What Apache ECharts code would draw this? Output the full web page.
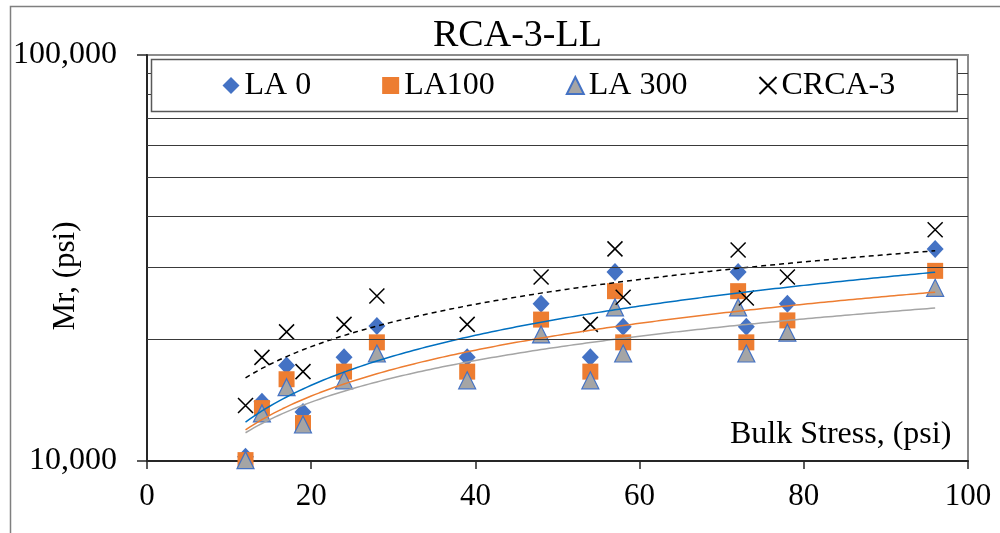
<!DOCTYPE html>
<html>
<head>
<meta charset="utf-8">
<script src="https://cdn.jsdelivr.net/npm/echarts@6/dist/echarts.min.js"></script>
<style>html,body{margin:0;padding:0;background:#fff;}#c{width:1000px;height:533px;}</style>
</head>
<body>
<div id="c"></div>
<script>
// ---- data ----
const bulkStress = [12, 14, 17, 19, 24, 28, 39, 48, 54, 57, 58, 72, 73, 78, 96];
const la0   = [10250, 14000, 17200, 13200, 18000, 21500, 18000, 24400, 18000, 29200, 21400, 29200, 21400, 24400, 33300];
const la100 = [10050, 13500, 15900, 12400, 16600, 19600, 16600, 22300, 16600, 26200, 19600, 26200, 19600, 22200, 29400];
const la300 = [10050, 13100, 15200, 12300, 15800, 18400, 15800, 20500, 15800, 23900, 18400, 23900, 18400, 20700, 26700];
const crca3 = [13700, 18000, 20800, 16600, 21700, 25500, 21700, 28400, 21700, 33300, 25300, 33100, 25200, 28400, 37100];
const seriesNames = ['LA 0', 'LA100', 'LA 300', 'CRCA-3'];
const minorGridValues = [20000, 30000, 40000, 50000, 60000, 70000, 80000, 90000];
const xTicks = [0, 20, 40, 60, 80, 100];

const FONT = '"Liberation Serif", "Times New Roman", serif';

function pairs(ys) { return bulkStress.map((x, i) => [x, ys[i]]); }

// power trendline (least squares in log-log space), like Excel's power trendline
function powerTrend(ys) {
  const n = bulkStress.length;
  const lx = bulkStress.map(Math.log), ly = ys.map(Math.log);
  const mx = lx.reduce((a, b) => a + b, 0) / n, my = ly.reduce((a, b) => a + b, 0) / n;
  let sxy = 0, sxx = 0;
  for (let i = 0; i < n; i++) { sxy += (lx[i] - mx) * (ly[i] - my); sxx += (lx[i] - mx) ** 2; }
  const b = sxy / sxx, a = Math.exp(my - b * mx);
  const x0 = Math.min(...bulkStress), x1 = Math.max(...bulkStress);
  const pts = [];
  for (let x = x0; x <= x1 + 1e-9; x += 0.5) pts.push([x, a * Math.pow(x, b)]);
  return pts;
}

const crossPath = 'path://M0,0L10,10M10,0L0,10';

const chart = echarts.init(document.getElementById('c'));
chart.setOption({
  animation: false,
  backgroundColor: '#fff',
  textStyle: { fontFamily: FONT, color: '#000' },
  title: {
    text: 'RCA-3-LL', left: 428, top: 12,
    textStyle: { fontFamily: FONT, fontSize: 38, fontWeight: 'normal', color: '#000' }
  },
  grid: { left: 147, right: 32, top: 55, bottom: 72, show: true, borderColor: '#8c8c8c', borderWidth: 2, backgroundColor: 'transparent' },
  legend: {
    data: seriesNames, left: 151.5, top: 59.5, itemGap: 71, itemWidth: 17, itemHeight: 17,
    padding: [10, 62, 10, 71],
    backgroundColor: '#fff', borderColor: '#595959', borderWidth: 1.5,
    textStyle: { fontFamily: FONT, fontSize: 32, color: '#000' },
    z: 10, selectedMode: false
  },
  graphic: [
    { type: 'rect', z: -10, silent: true, shape: { x: 10.5, y: 6.5, width: 1000, height: 540 }, style: { fill: 'none', stroke: '#7f7f7f', lineWidth: 1.5 } },
    { type: 'text', z: 6, silent: true, x: 66, y: 276, rotation: Math.PI / 2, style: { text: 'Mr, (psi)', font: '31px ' + FONT, fill: '#000', textAlign: 'center', textVerticalAlign: 'middle' } },
    { type: 'text', z: 6, silent: true, x: 730, y: 451, style: { text: 'Bulk Stress, (psi)', font: '32px ' + FONT, fill: '#000', textAlign: 'left', textVerticalAlign: 'bottom' } }
  ],
  xAxis: {
    type: 'value', min: 0, max: 100, interval: 20,
    axisLine: { show: true, onZero: false, lineStyle: { color: '#262626', width: 2 } },
    axisTick: { show: true, inside: false, length: 8, lineStyle: { color: '#262626', width: 1.5 } },
    axisLabel: { fontFamily: FONT, fontSize: 31, color: '#000', margin: 20, formatter: v => xTicks.includes(v) ? String(v) : '' },
    splitLine: { show: false }
  },
  yAxis: {
    type: 'log', logBase: 10, min: 10000, max: 100000,
    axisLine: { show: true, lineStyle: { color: '#262626', width: 2 } },
    axisTick: { show: true, inside: false, length: 10, lineStyle: { color: '#262626', width: 1.5 } },
    axisLabel: { fontFamily: FONT, fontSize: 32, color: '#000', margin: 30, formatter: v => Math.round(v).toLocaleString('en-US') },
    splitLine: { show: false }, minorTick: { show: false }
  },
  series: [
    { name: 'gridlines', type: 'scatter', data: [], z: 1, silent: true,
      markLine: { silent: true, symbol: 'none', label: { show: false }, animation: false,
        lineStyle: { color: '#3a3a3a', width: 1.2, type: 'solid' },
        data: minorGridValues.map(v => ({ yAxis: v })) } },
    { name: 'LA 0', type: 'scatter', z: 3, data: pairs(la0), symbol: 'diamond', symbolSize: [17, 18], itemStyle: { color: '#4472C4', opacity: 1 } },
    { name: 'LA100', type: 'scatter', z: 3, data: pairs(la100), symbol: 'rect', symbolSize: 16, itemStyle: { color: '#ED7D31', opacity: 1 } },
    { name: 'LA 300', type: 'scatter', z: 3, data: pairs(la300), symbol: 'triangle', symbolSize: [17, 17], itemStyle: { color: '#A5A5A5', borderColor: '#4472C4', borderWidth: 1.2, opacity: 1 } },
    { name: 'CRCA-3', type: 'scatter', z: 3, data: pairs(crca3), symbol: crossPath, symbolSize: 15, itemStyle: { color: 'transparent', borderColor: '#000', borderWidth: 1.5, opacity: 1 } },
    { name: 'trend LA 0', type: 'line', z: 4, data: powerTrend(la0), showSymbol: false, symbol: 'none', silent: true, lineStyle: { color: '#0070C0', width: 1.5 } },
    { name: 'trend LA100', type: 'line', z: 4, data: powerTrend(la100), showSymbol: false, symbol: 'none', silent: true, lineStyle: { color: '#ED7D31', width: 1.5 } },
    { name: 'trend LA 300', type: 'line', z: 4, data: powerTrend(la300), showSymbol: false, symbol: 'none', silent: true, lineStyle: { color: '#A5A5A5', width: 1.5 } },
    { name: 'trend CRCA-3', type: 'line', z: 4, data: powerTrend(crca3), showSymbol: false, symbol: 'none', silent: true, lineStyle: { color: '#000', width: 1.5, type: [5, 4] } }
  ]
});
</script>
</body>
</html>
